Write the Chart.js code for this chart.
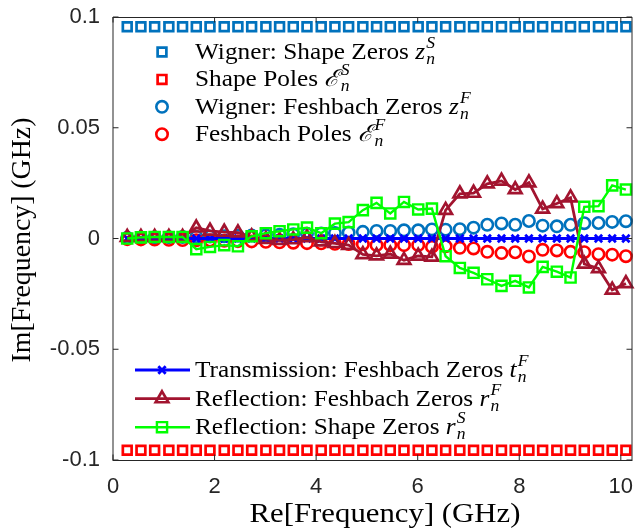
<!DOCTYPE html>
<html lang="en">
<head>
<meta charset="UTF-8">
<title>Complex frequency plane</title>
<script src="https://cdn.jsdelivr.net/npm/chart.js@4.4.1/dist/chart.umd.min.js"></script>
<style>
  body { margin: 0; background: #fff; }
</style>
</head>
<body>
<canvas id="mychart" width="642" height="531"></canvas>
<script>
// real part of each resonance (GHz)
const reFreq = [0.28, 0.55, 0.82, 1.10, 1.37, 1.64, 1.91, 2.19, 2.46, 2.73, 3.01, 3.28, 3.55,
  3.82, 4.10, 4.37, 4.64, 4.92, 5.19, 5.46, 5.73, 6.01, 6.28, 6.55, 6.83, 7.10, 7.37, 7.65,
  7.92, 8.19, 8.46, 8.74, 9.01, 9.28, 9.56, 9.83, 10.10];

// imaginary parts (GHz)
const shapeZeros = [0.0956, 0.0956, 0.0956, 0.0956, 0.0956, 0.0956, 0.0956, 0.0956, 0.0956,
  0.0956, 0.0956, 0.0956, 0.0956, 0.0956, 0.0956, 0.0956, 0.0956, 0.0956, 0.0956, 0.0956,
  0.0956, 0.0956, 0.0956, 0.0956, 0.0956, 0.0956, 0.0956, 0.0956, 0.0956, 0.0956, 0.0956,
  0.0956, 0.0956, 0.0956, 0.0956, 0.0956, 0.0956];
const shapePoles = [-0.0956, -0.0956, -0.0956, -0.0956, -0.0956, -0.0956, -0.0956, -0.0956,
  -0.0956, -0.0956, -0.0956, -0.0956, -0.0956, -0.0956, -0.0956, -0.0956, -0.0956, -0.0956,
  -0.0956, -0.0956, -0.0956, -0.0956, -0.0956, -0.0956, -0.0956, -0.0956, -0.0956, -0.0956,
  -0.0956, -0.0956, -0.0956, -0.0956, -0.0956, -0.0956, -0.0956, -0.0956, -0.0956];
const feshZeros = [0.0003, 0.0004, 0.0005, 0.0006, 0.0007, 0.0008, 0.0009, 0.0010, 0.0012,
  0.0013, 0.0015, 0.0017, 0.0019, 0.0021, 0.0023, 0.0025, 0.0027, 0.0030, 0.0034, 0.0034,
  0.0037, 0.0037, 0.0041, 0.0040, 0.0042, 0.0049, 0.0062, 0.0068, 0.0062, 0.0079, 0.0058,
  0.0055, 0.0062, 0.0069, 0.0070, 0.0075, 0.0078];
const feshPoles = [-0.0003, -0.0004, -0.0005, -0.0006, -0.0007, -0.0008, -0.0009, -0.0010,
  -0.0012, -0.0013, -0.0015, -0.0017, -0.0019, -0.0021, -0.0022, -0.0024, -0.0025, -0.0026,
  -0.0030, -0.0030, -0.0030, -0.0030, -0.0038, -0.0035, -0.0042, -0.0045, -0.0060, -0.0066,
  -0.0062, -0.0081, -0.0051, -0.0054, -0.0060, -0.0062, -0.0071, -0.0073, -0.0080];
const transF = [0, 0, 0, 0, 0, 0, 0, 0, 0, 0, 0, 0, 0, 0, 0, 0, 0, 0, 0, 0, 0, 0, 0, 0, 0, 0,
  0, 0, 0, 0, 0, 0, 0, 0, 0, 0, 0];
const reflF = [0.0006, 0.0006, 0.0006, 0.0006, 0.0006, 0.0048, 0.0034, 0.0029, 0.0026, 0.0008,
  -0.0003, -0.0008, -0.0005, 0.0005, -0.0015, -0.0022, -0.0030, -0.0072, -0.0078, -0.0070,
  -0.0098, -0.0079, -0.0083, 0.0128, 0.0202, 0.0205, 0.0247, 0.0260, 0.0221, 0.0252, 0.0133,
  0.0158, 0.0184, -0.0115, -0.0135, -0.0232, -0.0203];
const reflS = [0, 0.0005, 0.0007, 0.0007, 0.0007, -0.0048, -0.0038, -0.0030, -0.0035, 0.0010,
  0.0024, 0.0033, 0.0041, 0.0049, 0.0024, 0.0067, 0.0074, 0.0128, 0.0161, 0.0113, 0.0165,
  0.0131, 0.0135, -0.0080, -0.0133, -0.0155, -0.0184, -0.0214, -0.0191, -0.0221, -0.0128,
  -0.0150, -0.0176, 0.0143, 0.0146, 0.0240, 0.0221];

const xTicks = [0, 2, 4, 6, 8, 10];
const yTicks = [-0.1, -0.05, 0, 0.05, 0.1];
const yTickLabels = ['-0.1', '-0.05', '0', '0.05', '0.1'];

const SERIF = "'Liberation Serif', 'DejaVu Serif', serif";
const SANS = "'Liberation Sans', Arial, sans-serif";

function pts(ys) {
  return reFreq.map((x, i) => ({x: x, y: ys[i]}));
}

const styles = {
  shapeZ: {color: '#0072BD', pointStyle: 'rect', r: 6.2, bw: 2.7},
  shapeP: {color: '#FF0000', pointStyle: 'rect', r: 6.2, bw: 2.7},
  feshZ: {color: '#0072BD', pointStyle: 'circle', r: 5.7, bw: 2.6},
  feshP: {color: '#FF0000', pointStyle: 'circle', r: 5.7, bw: 2.6},
  trans: {color: '#0000FF', pointStyle: 'crossRot', r: 5.2, bw: 2.8, lw: 2.8},
  reflF: {color: '#A2142F', pointStyle: 'triangle', r: 7.3, bw: 2.7, lw: 2.8},
  reflS: {color: '#00FF00', pointStyle: 'rect', r: 7.2, bw: 2.4, lw: 2.4}
};

function ds(data, s, order, line) {
  return {
    data: pts(data),
    order: order,
    showLine: !!line,
    borderColor: s.color,
    borderWidth: s.lw || 0,
    pointStyle: s.pointStyle,
    pointRadius: s.r,
    pointBorderWidth: s.bw,
    pointBorderColor: s.color,
    pointBackgroundColor: 'rgba(0,0,0,0)',
    pointHoverRadius: s.r,
    clip: false
  };
}

function marker(ctx, s, x, y) {
  ctx.save();
  ctx.strokeStyle = s.color;
  ctx.lineWidth = s.bw;
  ctx.beginPath();
  const r = s.r;
  if (s.pointStyle === 'rect') {
    const h = r * Math.SQRT1_2;
    ctx.rect(x - h, y - h, 2 * h, 2 * h);
  } else if (s.pointStyle === 'circle') {
    ctx.arc(x, y, r, 0, Math.PI * 2);
  } else if (s.pointStyle === 'triangle') {
    ctx.moveTo(x, y - r);
    ctx.lineTo(x + r * 0.866, y + r / 2);
    ctx.lineTo(x - r * 0.866, y + r / 2);
    ctx.closePath();
  } else if (s.pointStyle === 'crossRot') {
    const d = r * Math.SQRT1_2;
    ctx.moveTo(x - d, y - d); ctx.lineTo(x + d, y + d);
    ctx.moveTo(x + d, y - d); ctx.lineTo(x - d, y + d);
  }
  ctx.stroke();
  ctx.restore();
}

// label text with a math symbol carrying subscript n and a superscript
function mathLabel(ctx, x, y, text, sym, sup) {
  ctx.save();
  ctx.translate(x, y + 7);
  ctx.scale(1.1, 1);
  ctx.fillStyle = '#000';
  ctx.textAlign = 'left';
  ctx.textBaseline = 'alphabetic';
  ctx.font = '23px ' + SERIF;
  ctx.fillText(text, 0, 0);
  let cx = ctx.measureText(text).width;
  ctx.font = 'italic 23px ' + SERIF;
  ctx.fillText(sym, cx, 0);
  cx += ctx.measureText(sym).width + 1;
  ctx.font = 'italic 16px ' + SERIF;
  ctx.fillText(sup, cx, -11);
  ctx.fillText('n', cx, 5);
  ctx.restore();
}

const legendTop = [
  {s: styles.shapeZ, text: 'Wigner: Shape Zeros ', sym: 'z', sup: 'S'},
  {s: styles.shapeP, text: 'Shape Poles ', sym: '\u2130', sup: 'S'},
  {s: styles.feshZ, text: 'Wigner: Feshbach Zeros ', sym: 'z', sup: 'F'},
  {s: styles.feshP, text: 'Feshbach Poles ', sym: '\u2130', sup: 'F'}
];
const legendBottom = [
  {s: styles.trans, text: 'Transmission: Feshbach Zeros ', sym: 't', sup: 'F'},
  {s: styles.reflF, text: 'Reflection: Feshbach Zeros ', sym: 'r', sup: 'F'},
  {s: styles.reflS, text: 'Reflection: Shape Zeros ', sym: 'r', sup: 'S'}
];

const frame = {
  id: 'frame',
  afterDatasetsDraw(chart) {
    const ctx = chart.ctx;
    const a = chart.chartArea;
    const xs = chart.scales.x, ys = chart.scales.y;
    ctx.save();
    ctx.strokeStyle = '#262626';
    ctx.lineWidth = 1;
    ctx.strokeRect(a.left, a.top + 0.5, a.right - a.left, a.bottom - a.top);
    ctx.beginPath();
    xTicks.forEach(v => {
      const px = xs.getPixelForValue(v);
      ctx.moveTo(px, a.bottom); ctx.lineTo(px, a.bottom - 5.5);
      ctx.moveTo(px, a.top); ctx.lineTo(px, a.top + 5.5);
    });
    yTicks.forEach(v => {
      const py = ys.getPixelForValue(v);
      ctx.moveTo(a.left, py); ctx.lineTo(a.left + 5.5, py);
      ctx.moveTo(a.right, py); ctx.lineTo(a.right - 5.5, py);
    });
    ctx.stroke();

    // axis titles
    ctx.fillStyle = '#000';
    ctx.font = '27px ' + SERIF;
    ctx.textAlign = 'center';
    ctx.textBaseline = 'middle';
    ctx.save();
    ctx.translate(385, 515);
    ctx.scale(1.14, 1);
    ctx.fillText('Re[Frequency] (GHz)', 0, 0);
    ctx.restore();
    ctx.translate(23, 240);
    ctx.rotate(-Math.PI / 2);
    ctx.scale(1.03, 1);
    ctx.fillText('Im[Frequency] (GHz)', 0, 0);
    ctx.restore();

    // legends
    legendTop.forEach((e, i) => {
      const y = 52 + i * 27.4;
      marker(ctx, e.s, 162, y);
      mathLabel(ctx, 195, y, e.text, e.sym, e.sup);
    });
    legendBottom.forEach((e, i) => {
      const y = 370 + i * 28.6;
      ctx.save();
      ctx.strokeStyle = e.s.color;
      ctx.lineWidth = e.s.lw;
      ctx.beginPath();
      ctx.moveTo(135, y); ctx.lineTo(190, y);
      ctx.stroke();
      ctx.restore();
      marker(ctx, e.s, 162, y);
      mathLabel(ctx, 195, y, e.text, e.sym, e.sup);
    });
  }
};

const ctx = document.getElementById('mychart').getContext('2d');
const myChart = new Chart(ctx, {
  type: 'scatter',
  data: {
    datasets: [
      ds(shapeZeros, styles.shapeZ, 7, false),
      ds(shapePoles, styles.shapeP, 6, false),
      ds(feshZeros, styles.feshZ, 5, false),
      ds(feshPoles, styles.feshP, 4, false),
      ds(transF, styles.trans, 3, true),
      ds(reflF, styles.reflF, 2, true),
      ds(reflS, styles.reflS, 1, true)
    ]
  },
  options: {
    responsive: false,
    animation: false,
    devicePixelRatio: 1,
    layout: {padding: {top: 17, right: 1.5, left: 0, bottom: 0}},
    plugins: {legend: {display: false}, tooltip: {enabled: false}},
    scales: {
      x: {
        type: 'linear',
        min: 0,
        max: 10.22,
        afterFit: s => { s.height = 71; s.paddingLeft = 0; s.paddingRight = 0; },
        grid: {display: false},
        border: {display: false},
        ticks: {
          stepSize: 2,
          includeBounds: false,
          padding: 6,
          color: '#262626',
          font: {family: SANS, size: 22},
          maxRotation: 0
        }
      },
      y: {
        type: 'linear',
        min: -0.1,
        max: 0.1,
        afterFit: s => { s.width = 113; s.paddingTop = 0; s.paddingBottom = 0; },
        afterBuildTicks: s => { s.ticks = yTicks.map(v => ({value: v})); },
        grid: {display: false},
        border: {display: false},
        ticks: {
          padding: 5,
          color: '#262626',
          font: {family: SANS, size: 22},
          callback: (v) => {
            const i = yTicks.findIndex(t => Math.abs(t - v) < 1e-9);
            return i >= 0 ? yTickLabels[i] : '';
          }
        }
      }
    }
  },
  plugins: [frame]
});
</script>
</body>
</html>
